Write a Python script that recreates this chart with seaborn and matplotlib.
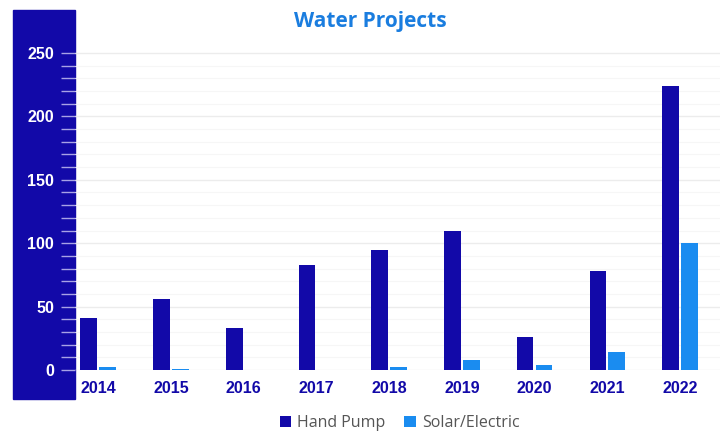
#import library
import pandas as pd
import seaborn as sns
import matplotlib.pyplot as plt
from matplotlib.patches import Rectangle
from matplotlib.ticker import MultipleLocator

#data
years = ['2014', '2015', '2016', '2017', '2018', '2019', '2020', '2021', '2022']
hand_pump = [41, 56, 33, 83, 95, 110, 26, 78, 224]
solar_electric = [2, 1, 0, 0, 2, 8, 4, 14, 100]
series_names = ['Hand Pump', 'Solar/Electric']

navy = '#1209a8'
sky = '#1a8cf0'

df = pd.DataFrame({
    'Year': years * 2,
    'Projects': hand_pump + solar_electric,
    'Type': [series_names[0]] * len(years) + [series_names[1]] * len(years),
})

sns.set_theme(style='white')
plt.rcParams['font.family'] = ['Liberation Sans', 'DejaVu Sans']

fig = plt.figure(figsize=(7.2, 4.33), dpi=100)
#dark band behind the y axis labels
fig.patches.append(Rectangle((13 / 720, 1 - 399 / 433), 62 / 720, 389 / 433,
                             transform=fig.transFigure, color=navy, zorder=-5))

ax = fig.add_axes([75 / 720, 63 / 433, 645 / 720, 252 * 1.268 / 433])
ax.patch.set_alpha(0)
sns.barplot(data=df, x='Year', y='Projects', hue='Type', palette=[navy, sky],
            saturation=1, width=0.52, gap=0.12, linewidth=0, ax=ax, legend=True)

ax.set_xlim(-0.32, 8.55)
ax.set_ylim(0, 252)
ax.yaxis.set_major_locator(MultipleLocator(50))
ax.yaxis.set_minor_locator(MultipleLocator(10))
ax.grid(axis='y', which='major', color='#ececec', linewidth=1)
ax.grid(axis='y', which='minor', color='#f6f6f6', linewidth=0.8)
ax.set_axisbelow(True)
for s in ax.spines.values():
    s.set_visible(False)

ax.tick_params(axis='y', which='both', left=True, length=10, width=1,
               color='#a9a3e6', pad=5, labelcolor='white', labelsize=11.5)
ax.tick_params(axis='x', length=0, pad=8, labelcolor=navy, labelsize=11.5)
for lab in ax.get_yticklabels() + ax.get_xticklabels():
    lab.set_fontweight('bold')

ax.set_xlabel('')
ax.set_ylabel('')

fig.text(0.515, 0.95, 'Water Projects', ha='center', va='center',
         fontsize=15, fontweight='bold', color='#1a7ddf', family=['Open Sans', 'DejaVu Sans'])

handles, labels = ax.get_legend_handles_labels()
ax.legend_.remove()
leg = fig.legend(handles, labels, loc='center', bbox_to_anchor=(0.555, 0.022),
                 ncol=2, frameon=False, handlelength=0.7, handleheight=0.7,
                 handletextpad=0.4, columnspacing=1.2,
                 prop={'family': ['Open Sans', 'DejaVu Sans'], 'size': 11.5})
for t in leg.get_texts():
    t.set_color('#555555')

plt.savefig('out.png', dpi=100)
